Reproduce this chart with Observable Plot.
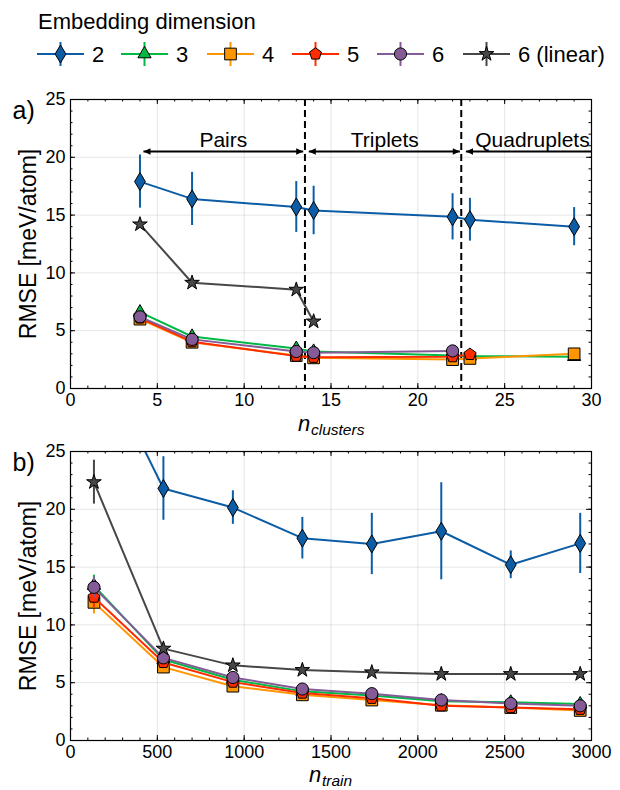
<!DOCTYPE html>
<html><head><meta charset="utf-8">
<script src="https://cdn.jsdelivr.net/npm/d3@7"></script>
<script src="https://cdn.jsdelivr.net/npm/@observablehq/plot@0.6"></script>
<style>
body{margin:0;background:#fff;}
#wrap{position:relative;width:620px;height:790px;overflow:hidden;background:#fff;font-family:"Liberation Sans",Arial,Helvetica,sans-serif;}
#legend{position:absolute;left:0;top:0;}
#pa{position:absolute;left:0;top:80px;}
#pb{position:absolute;left:0;top:440px;}
</style></head><body><div id="wrap"><div id="legend"></div><div id="pa"></div><div id="pb"></div></div>
<script>
const FONT = '"Liberation Sans", Arial, Helvetica, sans-serif';
// ---------- data ----------
const seriesNames = ["2", "3", "4", "5", "6", "6 (linear)"];
const seriesColors = ["#0C5DA5", "#00B945", "#FF9500", "#FF2C00", "#845B97", "#474747"];
const legendTitle = "Embedding dimension";
const yLabel = "RMSE [meV/atom]";

// panel a: RMSE vs n_clusters
const clustersX = [4, 7, 13, 14, 22, 23, 29];
const a_dim2 = [17.9, 16.4, 15.7, 15.4, 14.85, 14.6, 14.0];
const a_dim2_err = [2.3, 2.3, 2.2, 2.1, 2.0, 1.85, 1.65];
const a_dim3 = [6.6, 4.5, 3.45, 3.2, 2.85, 2.8, 2.75];
const a_dim3_err = [0.25, 0.2, 0.2, 0.15, 0.15, 0.15, 0.15];
const a_dim4 = [6.0, 4.0, 2.85, 2.65, 2.5, 2.6, 3.0];
const a_dim4_err = [0.2, 0.15, 0.15, 0.15, 0.15, 0.15, 0.15];
const a_dim5 = [6.1, 4.05, 2.8, 2.7, 2.75, 2.95];
const a_dim5_err = [0.2, 0.15, 0.15, 0.15, 0.15, 0.15];
const a_dim6 = [6.2, 4.25, 3.2, 3.1, 3.25];
const a_dim6_err = [0.2, 0.15, 0.15, 0.15, 0.15];
const a_lin = [14.2, 9.15, 8.55, 5.8];
const a_lin_err = [0.2, 0.15, 0.15, 0.15];

const regionBounds = [13.5, 22.5];
const regionLabels = ["Pairs", "Triplets", "Quadruplets"];
const regionLabelX = [8.8, 18.1, 26.6];
const regionArrowX1 = [4.2, 13.72, 22.77];
const regionArrowX2 = [13.4, 22.42, 30];
const regionArrowY = 20.5;
const regionLabelY = 20.85;

// panel b: RMSE vs n_train
const trainX = [135, 535, 935, 1335, 1735, 2135, 2535, 2935];
const b_dim2 = [34.0, 21.8, 20.15, 17.5, 17.0, 18.1, 15.2, 17.05];
const b_dim2_err = [3.0, 2.75, 1.45, 1.8, 2.65, 4.2, 1.2, 2.6];
const b_dim3 = [13.4, 7.0, 5.25, 4.25, 3.9, 3.4, 3.3, 3.15];
const b_dim3_err = [0.9, 0.4, 0.3, 0.25, 0.2, 0.2, 0.2, 0.2];
const b_dim4 = [11.95, 6.35, 4.7, 3.95, 3.5, 3.05, 2.85, 2.6];
const b_dim4_err = [1.0, 0.5, 0.3, 0.25, 0.2, 0.2, 0.2, 0.2];
const b_dim5 = [12.4, 6.75, 5.05, 4.1, 3.65, 3.0, 2.85, 2.7];
const b_dim5_err = [0.9, 0.4, 0.3, 0.25, 0.2, 0.2, 0.2, 0.2];
const b_dim6 = [13.25, 7.15, 5.45, 4.45, 4.05, 3.5, 3.2, 3.0];
const b_dim6_err = [0.9, 0.4, 0.3, 0.25, 0.2, 0.2, 0.2, 0.2];
const b_lin = [22.35, 7.95, 6.5, 6.1, 5.9, 5.75, 5.75, 5.75];
const b_lin_err = [1.9, 0.2, 0.15, 0.15, 0.15, 0.15, 0.15, 0.15];

const aXTicks = [0, 5, 10, 15, 20, 25, 30];
const bXTicks = [0, 500, 1000, 1500, 2000, 2500, 3000];
const yTicks = [0, 5, 10, 15, 20, 25];

// ---------- symbols ----------
const thinDiamond = {draw(ctx, size) {const r = Math.sqrt(size / Math.PI); const h = r * 1.5, w = r * 0.9;
  ctx.moveTo(0, -h); ctx.lineTo(w, 0); ctx.lineTo(0, h); ctx.lineTo(-w, 0); ctx.closePath();}};
const pentagon = {draw(ctx, size) {const r = Math.sqrt(size / Math.PI) * 1.1;
  for (let i = 0; i < 5; i++) {const a = -Math.PI / 2 + i * 2 * Math.PI / 5; const x = r * Math.cos(a), y = r * Math.sin(a);
    if (i) ctx.lineTo(x, y); else ctx.moveTo(x, y);} ctx.closePath();}};
const headLeft = {draw(ctx, size) {const s = Math.sqrt(size / Math.PI); ctx.moveTo(0, 0); ctx.lineTo(2.2 * s, -s); ctx.lineTo(2.2 * s, s); ctx.closePath();}};
const headRight = {draw(ctx, size) {const s = Math.sqrt(size / Math.PI); ctx.moveTo(0, 0); ctx.lineTo(-2.2 * s, -s); ctx.lineTo(-2.2 * s, s); ctx.closePath();}};
const seriesSymbols = [thinDiamond, d3.symbolTriangle, d3.symbolSquare, pentagon, d3.symbolCircle, d3.symbolStar];
const seriesR = [6, 4.9, 6.6, 5.7, 6.1, 4.6];

function rows(name, xs, ys, es) { return ys.map((y, i) => ({series: name, x: xs[i], y, err: es[i]})); }
const dataA = [
  rows("2", clustersX, a_dim2, a_dim2_err), rows("3", clustersX, a_dim3, a_dim3_err),
  rows("4", clustersX, a_dim4, a_dim4_err), rows("5", clustersX, a_dim5, a_dim5_err),
  rows("6", clustersX, a_dim6, a_dim6_err), rows("6 (linear)", clustersX, a_lin, a_lin_err)];
const dataB = [
  rows("2", trainX, b_dim2, b_dim2_err), rows("3", trainX, b_dim3, b_dim3_err),
  rows("4", trainX, b_dim4, b_dim4_err), rows("5", trainX, b_dim5, b_dim5_err),
  rows("6", trainX, b_dim6, b_dim6_err), rows("6 (linear)", trainX, b_lin, b_lin_err)];

function seriesMarks(groups) {
  const m = [];
  groups.forEach((d, i) => {
    const c = seriesColors[i];
    m.push(Plot.ruleX(d, {x: "x", y1: r => r.y - r.err, y2: r => r.y + r.err, stroke: c, strokeWidth: 2, clip: true}));
    m.push(Plot.line(d, {x: "x", y: "y", stroke: c, strokeWidth: 2, clip: true}));
    m.push(Plot.dot(d, {x: "x", y: "y", symbol: seriesSymbols[i], r: seriesR[i], fill: c, stroke: "#000", strokeWidth: 1, clip: true}));
  });
  return m;
}

function range(a, b, s) { const o = []; for (let v = a; v <= b + 1e-9; v += s) o.push(+v.toFixed(6)); return o; }

function panel({height, mt, mb, xDomain, xTicks, xMinor, label, sub, subDx, nDx, labDy, panelLabel, data, extra}) {
  const ml = 70, mr = 29, W = 620;
  const fw = W - ml - mr, fh = height - mt - mb;
  const yMinor = range(0, 25, 1);
  const tk = (vals, len) => [
    Plot.tickX(vals, {x: d => d, insetTop: fh - len, stroke: "#000", strokeWidth: 1}),
    Plot.tickX(vals, {x: d => d, insetBottom: fh - len, stroke: "#000", strokeWidth: 1})];
  const tky = (vals, len) => [
    Plot.tickY(vals, {y: d => d, insetRight: fw - len, stroke: "#000", strokeWidth: 1}),
    Plot.tickY(vals, {y: d => d, insetLeft: fw - len, stroke: "#000", strokeWidth: 1})];
  return Plot.plot({
    width: W, height, marginTop: mt, marginBottom: mb, marginLeft: ml, marginRight: mr,
    style: {fontFamily: FONT, fontSize: "18px", color: "#000", background: "transparent", overflow: "visible"},
    x: {domain: xDomain}, y: {domain: [0, 25]},
    marks: [
      Plot.gridX(xTicks, {stroke: "#000", strokeOpacity: 0.1, strokeWidth: 1}),
      Plot.gridY(yTicks, {stroke: "#000", strokeOpacity: 0.1, strokeWidth: 1}),
      ...(extra ? extra.before : []),
      ...seriesMarks(data),
      ...(extra ? extra.after : []),
      Plot.frame({stroke: "#000", strokeWidth: 1.2}),
      ...tk(xMinor, 2.5), ...tk(xTicks, 5),
      ...tky(yMinor, 2.5), ...tky(yTicks, 5),
      Plot.axisX(xTicks, {tickSize: 0, tickPadding: 5, fontSize: 18, label: null, tickFormat: d => String(d)}),
      Plot.axisY(yTicks, {tickSize: 0, tickPadding: 5, fontSize: 18, label: null, tickFormat: d => String(d)}),
      Plot.text([yLabel], {x: () => xDomain[0], y: () => 12.5, text: d => d, rotate: -90, dx: -42, fontSize: 23}),
      Plot.text([panelLabel], {x: () => xDomain[0], y: () => 25, text: d => d, dx: -58, dy: 2, textAnchor: "start", lineAnchor: "top", fontSize: 25}),
      Plot.text([label], {frameAnchor: "bottom", text: d => d, dx: nDx, dy: labDy, textAnchor: "start", lineAnchor: "bottom", fontSize: 22, fontStyle: "italic"}),
      Plot.text([sub], {frameAnchor: "bottom", text: d => d, dx: subDx, dy: labDy + 4, textAnchor: "start", lineAnchor: "bottom", fontSize: 15.5, fontStyle: "italic"})
    ]
  });
}

const regions = regionLabels.map((l, i) => ({label: l, xm: regionLabelX[i], x1: regionArrowX1[i], x2: regionArrowX2[i]}));
const extraA = {
  before: [Plot.ruleX(regionBounds, {x: d => d, stroke: "#000", strokeWidth: 2, strokeDasharray: "7,4"})],
  after: [
    Plot.link(regions, {x1: "x1", x2: "x2", y1: regionArrowY, y2: regionArrowY, stroke: "#000", strokeWidth: 2}),
    Plot.dot(regions, {x: "x1", y: regionArrowY, symbol: headLeft, r: 3.2, fill: "#000", stroke: "none"}),
    Plot.dot(regions.slice(0, 2), {x: "x2", y: regionArrowY, symbol: headRight, r: 3.2, fill: "#000", stroke: "none"}),
    Plot.text(regions, {x: "xm", y: regionLabelY, text: "label", fontSize: 21, lineAnchor: "bottom"})
  ]
};

document.getElementById("pa").appendChild(panel({height: 360, mt: 19, mb: 52, xDomain: [0, 30], xTicks: aXTicks, xMinor: range(0, 30, 1),
  label: "n", sub: "clusters", nDx: -33, subDx: -20, labDy: 42, panelLabel: "a)", data: dataA, extra: extraA}));
document.getElementById("pb").appendChild(panel({height: 350, mt: 11, mb: 50, xDomain: [0, 3000], xTicks: bXTicks, xMinor: range(0, 3000, 100),
  label: "n", sub: "train", nDx: -22, subDx: -9, labDy: 41, panelLabel: "b)", data: dataB, extra: null}));

// ---------- legend ----------
const legendHandleX = [37, 121, 207, 292, 377, 463];
const rowY = 54;
const leg = d3.select("#legend").append("svg").attr("width", 620).attr("height", 80).style("font-family", FONT);
leg.append("text").attr("x", 38).attr("y", 29).attr("font-size", 22).text(legendTitle);
seriesNames.forEach((name, i) => {
  const x0 = legendHandleX[i], c = seriesColors[i], cx = x0 + 23.5;
  leg.append("line").attr("x1", x0).attr("x2", x0 + 47).attr("y1", rowY).attr("y2", rowY).attr("stroke", c).attr("stroke-width", 2);
  leg.append("line").attr("x1", cx).attr("x2", cx).attr("y1", rowY - 12).attr("y2", rowY + 12).attr("stroke", c).attr("stroke-width", 2);
  leg.append("path").attr("transform", `translate(${cx},${rowY})`).attr("d", d3.symbol(seriesSymbols[i], Math.PI * seriesR[i] * seriesR[i])())
    .attr("fill", c).attr("stroke", "#000").attr("stroke-width", 1);
  leg.append("text").attr("x", x0 + 55).attr("y", rowY).attr("dy", "0.36em").attr("font-size", 22).text(name);
});
</script></body></html>
